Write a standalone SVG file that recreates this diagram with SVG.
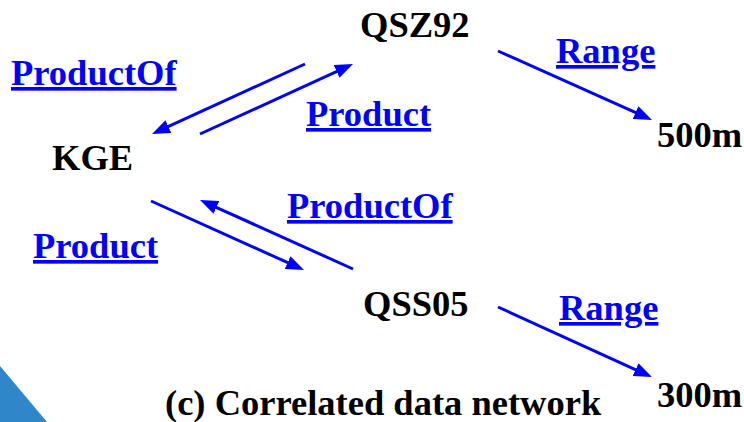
<svg xmlns="http://www.w3.org/2000/svg" width="744" height="422" viewBox="0 0 744 422">
<style>
.node{font-family:'Liberation Serif','Times New Roman',serif;font-weight:700;font-size:36.5px;fill:#000}
.lbl{font-family:'Liberation Serif','Times New Roman',serif;font-weight:700;font-size:36.5px;fill:#0000ff;text-decoration:underline}
.edge{stroke:#0000ff;stroke-width:3;fill:none;marker-end:url(#ah)}
</style>
<defs>
<marker id="ah" markerUnits="userSpaceOnUse" markerWidth="18" markerHeight="14" refX="10" refY="7" orient="auto">
<path d="M0,0 L18,7 L0,14 z" fill="#0000ff"/>
</marker>
</defs>
<rect width="744" height="422" fill="#fff"/>
<polygon points="0,366 47,422 0,422" fill="#2f87c9"/>
<g id="connectors">
<line class="edge" x1="305" y1="64" x2="159.3" y2="130.7"/>
<line class="edge" x1="200" y1="134" x2="345.7" y2="67.3"/>
<line class="edge" x1="151" y1="201" x2="296.7" y2="266.7"/>
<line class="edge" x1="353" y1="269" x2="207.3" y2="203.3"/>
<line class="edge" x1="498" y1="51" x2="644.7" y2="116.7"/>
<line class="edge" x1="498" y1="307" x2="644.7" y2="373.8"/>
<text class="lbl" x="11" y="85">ProductOf</text>
<text class="lbl" x="306" y="126">Product</text>
<text class="lbl" x="287" y="218">ProductOf</text>
<text class="lbl" x="33" y="258">Product</text>
<text class="lbl" x="556" y="63">Range</text>
<text class="lbl" x="559" y="320">Range</text>
</g>
<g id="n-qsz92"><text class="node" x="360" y="37">QSZ92</text></g>
<g id="n-kge"><text class="node" x="52" y="170">KGE</text></g>
<g id="n-qss05"><text class="node" x="363" y="316">QSS05</text></g>
<g id="n-500m"><text class="node" x="657" y="147">500m</text></g>
<g id="n-300m"><text class="node" x="657" y="407">300m</text></g>
<g id="caption"><text class="node" x="165" y="415">(c) Correlated data network</text></g>
</svg>
